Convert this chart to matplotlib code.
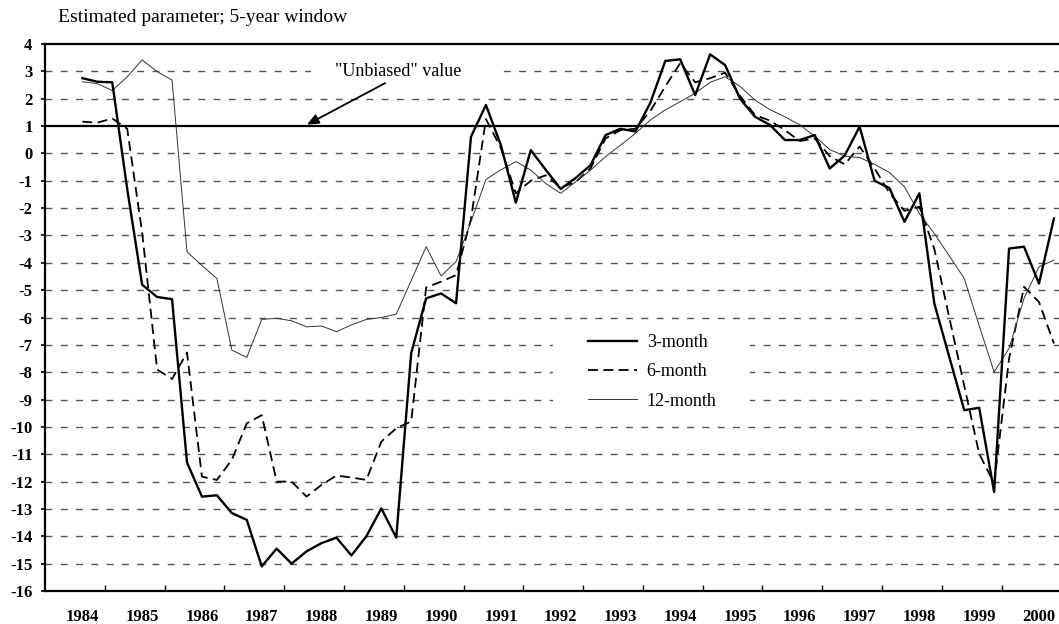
import numpy as np
import pandas as pd
import matplotlib
matplotlib.use("Agg")
import matplotlib.pyplot as plt
from matplotlib.patches import Rectangle

# quarterly estimates, 1984Q3 .. 2000Q4
quarters = pd.period_range("1984Q3", "2000Q4", freq="Q")

m3 = [2.75, 2.62, 2.6, -1.3, -4.8, -5.25, -5.33, -11.3, -12.55, -12.5,
      -13.15, -13.4, -15.1, -14.45, -15.0, -14.55, -14.25, -14.05, -14.7, -14.0,
      -12.98, -14.05, -7.3, -5.3, -5.12, -5.48, 0.61, 1.77, 0.3, -1.8,
      0.12, -0.6, -1.3, -0.9, -0.43, 0.67, 0.9, 0.8, 1.85, 3.38,
      3.44, 2.13, 3.62, 3.23, 2.0, 1.34, 1.04, 0.49, 0.49, 0.67,
      -0.55, -0.08, 0.98, -1.0, -1.27, -2.5, -1.46, -5.49, -7.44, -9.39,
      -9.3, -12.38, -3.48, -3.41, -4.76, -2.38]

m6 = [1.16, 1.12, 1.28, 0.9, -2.9, -7.9, -8.25, -7.28, -11.82, -11.94,
      -11.2, -9.87, -9.57, -12.0, -12.0, -12.55, -12.12, -11.78, -11.85, -11.94,
      -10.54, -10.05, -9.8, -4.9, -4.69, -4.45, -2.4, 1.25, 0.2, -1.46,
      -1.0, -0.8, -1.25, -1.05, -0.55, 0.55, 0.85, 0.9, 1.55, 2.45,
      3.3, 2.6, 2.75, 2.95, 2.1, 1.4, 1.2, 0.85, 0.45, 0.55,
      -0.1, -0.4, 0.25, -0.55, -1.45, -2.1, -1.95, -3.5, -6.0, -8.5,
      -10.98, -12.07, -7.5, -4.88, -5.43, -6.95]

m12 = [2.62, 2.55, 2.3, 2.8, 3.42, 2.99, 2.68, -3.6, -4.1, -4.57,
       -7.19, -7.46, -6.07, -6.03, -6.12, -6.34, -6.31, -6.52, -6.27, -6.07,
       -6.0, -5.88, -4.65, -3.41, -4.48, -3.96, -2.5, -0.95, -0.6, -0.3,
       -0.61, -1.1, -1.46, -1.04, -0.61, -0.12, 0.3, 0.73, 1.22, 1.59,
       1.89, 2.2, 2.6, 2.8, 2.45, 1.95, 1.6, 1.34, 1.04, 0.63,
       0.14, -0.1, -0.15, -0.4, -0.7, -1.22, -2.2, -2.93, -3.75, -4.57,
       -6.3, -7.99, -7.13, -5.3, -4.15, -3.9]

years = list(range(1984, 2001))
unbiased = 1.0

# x position: middle of each quarter in decimal years
x = np.array([q.year + (q.quarter - 1) / 4 + 0.125 for q in quarters])

serif = "Liberation Serif"

fig = plt.figure(figsize=(10.59, 6.24), dpi=100)
ax = fig.add_axes([45 / 1059, 1 - 591 / 624, 1 - 45 / 1059, (591 - 44) / 624])
ax.set_xlim(1984, 2000.96)
ax.set_ylim(-16, 4)

# dashed grid
for g in range(-15, 4):
    if g == 1:
        continue
    ax.axhline(g, color="#555555", lw=1.0, ls=(0, (5, 6)), zorder=1)

# white patches behind legend and annotation text
ax.add_patch(Rectangle((1992.5, -9.45), 3.3, 3.0, facecolor="white",
                       edgecolor="none", zorder=1.5))
ax.add_patch(Rectangle((1988.45, 2.7), 3.1, 0.6, facecolor="white",
                       edgecolor="none", zorder=1.5))

ax.axhline(unbiased, color="black", lw=1.6, zorder=2)

ax.plot(x, m3, color="black", lw=1.7, label="3-month", zorder=4)
ax.plot(x, m6, color="black", lw=1.3, ls=(0, (5.5, 3)), label="6-month", zorder=3)
ax.plot(x, m12, color="#333333", lw=0.7, label="12-month", zorder=3)

ax.annotate("", xy=(1988.38, 1.05), xytext=(1989.69, 2.57),
            arrowprops=dict(arrowstyle="-|>,head_length=0.7,head_width=0.3",
                            color="black", lw=1.3, shrinkA=0, shrinkB=0),
            zorder=5)
ax.text(1989.9, 3.0, '"Unbiased" value', family=serif, fontsize=13,
        ha="center", va="center", zorder=5)

leg = ax.legend(loc="upper left", bbox_to_anchor=(588 / 1059, 1 - 334 / 624),
                bbox_transform=fig.transFigure, frameon=False, borderpad=0,
                borderaxespad=0, handlelength=2.7, handletextpad=0.55,
                labelspacing=0.68, prop={"family": serif, "size": 13})
leg.set_zorder(6)

for s in ["left", "top", "bottom"]:
    ax.spines[s].set_linewidth(1.6)
ax.spines["right"].set_visible(False)

ax.set_yticks(range(-16, 5))
ax.set_yticklabels([str(v) for v in range(-16, 5)], family=serif,
                   fontweight="bold", fontsize=12)
ax.tick_params(axis="y", direction="out", length=3, width=1.2, pad=6)

ax.set_xticks(years[1:])
ax.set_xticklabels([])
ax.tick_params(axis="x", which="major", direction="in", length=4, width=1)
ax.set_xticks([y + 0.625 for y in years], minor=True)
ax.set_xticklabels([str(y) for y in years], minor=True, family=serif,
                   fontweight="bold", fontsize=12)
ax.tick_params(axis="x", which="minor", length=0, pad=13)

fig.text(58 / 1059, 1 - 18 / 624, "Estimated parameter; 5-year window",
         family=serif, fontsize=14, ha="left", va="center")

fig.savefig("out.png", dpi=100)
